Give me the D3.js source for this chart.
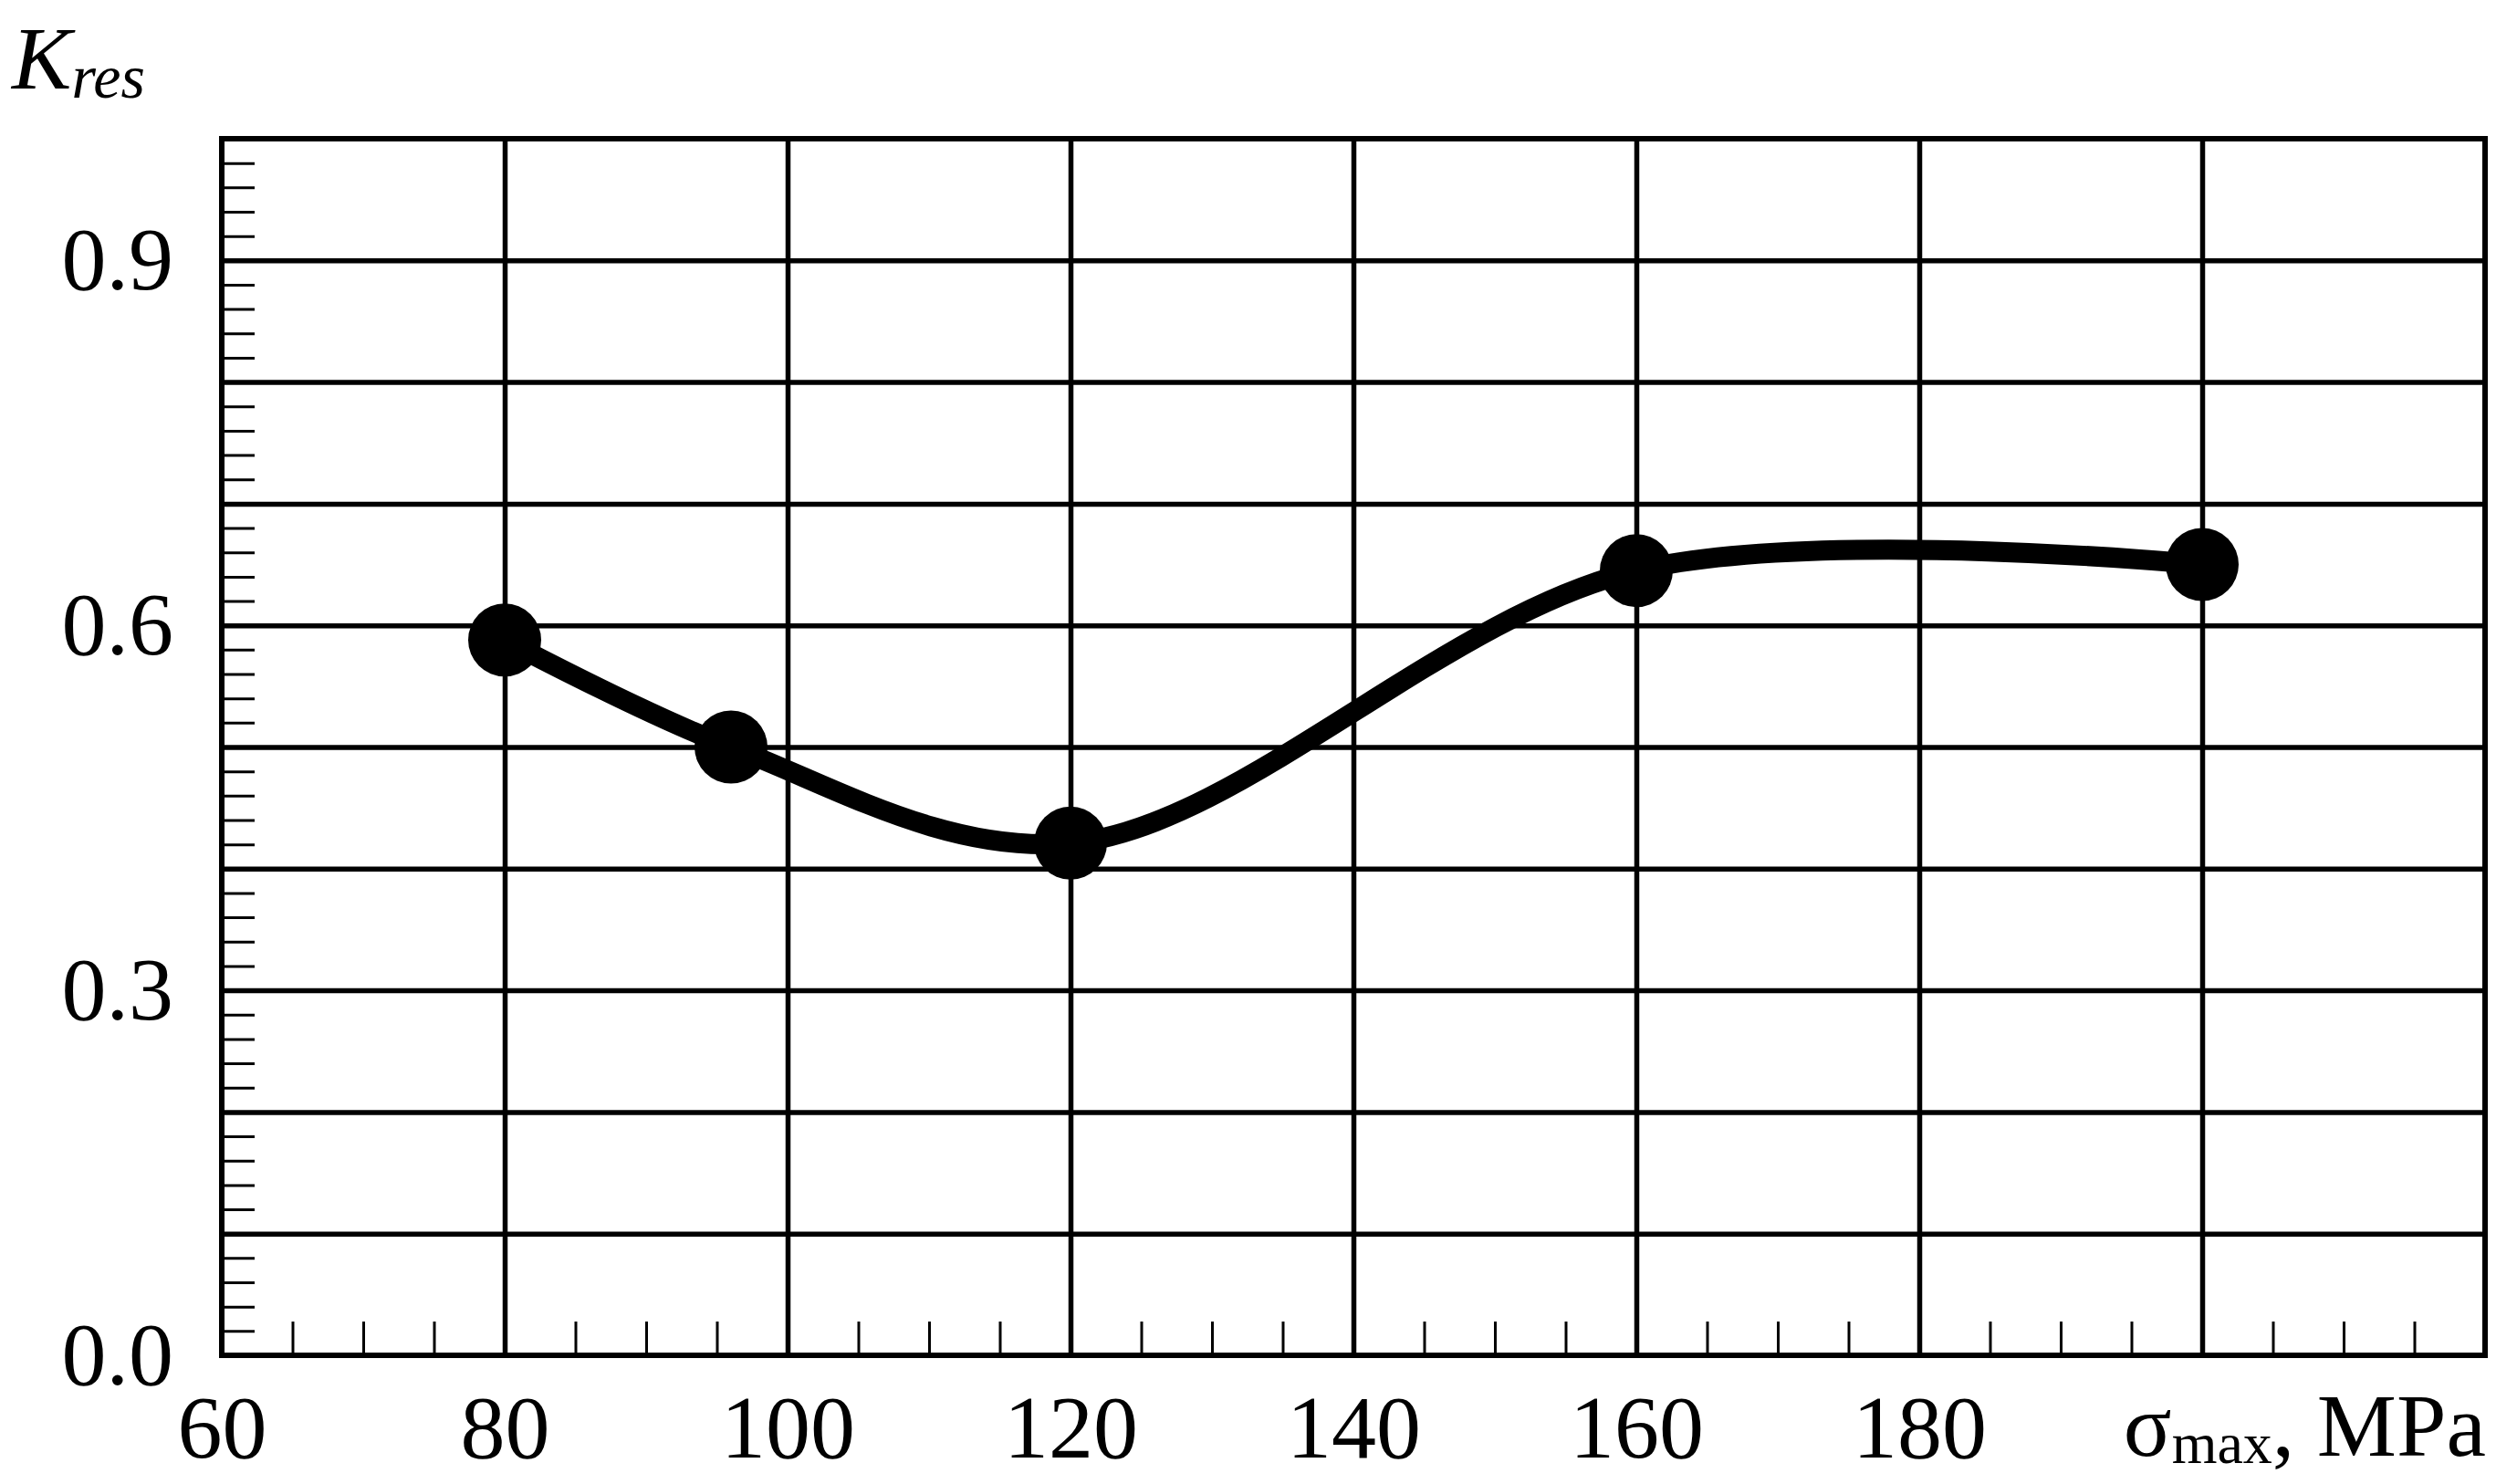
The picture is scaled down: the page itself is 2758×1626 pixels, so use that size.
<!DOCTYPE html>
<html>
<head>
<meta charset="utf-8">
<script src="https://cdn.jsdelivr.net/npm/d3@7"></script>
<style>
  body { margin: 0; background: #fff; }
  svg { display: block; }
  text { font-family: "Liberation Serif", "Times New Roman", serif; fill: #000; }
</style>
</head>
<body>
<div id="chart"></div>
<script>
(() => {
  // data
  const sigmaMax = [80, 96, 120, 160, 200]
  const kRes = [0.588, 0.500, 0.421, 0.645, 0.650]

  // tick labels and grid
  const xTickLabels = [60, 80, 100, 120, 140, 160, 180]
  const yTickLabels = [0.0, 0.3, 0.6, 0.9]
  const xGrid = [80, 100, 120, 140, 160, 180, 200]
  const yGrid = [0.1, 0.2, 0.3, 0.4, 0.5, 0.6, 0.7, 0.8, 0.9]

  const WIDTH = 2758
  const HEIGHT = 1626
  const PLOT = { left: 243, right: 2723, top: 152, bottom: 1485 }
  const FONT = 98

  const xMinor = d3.range(65, 220, 5).filter(v => v % 20 !== 0)
  const yMinor = d3.range(1, 50).map(i => i * 0.02).filter((v, i) => (i + 1) % 5 !== 0)

  const svg = d3.select('#chart')
    .append('svg')
    .attr('width', WIDTH)
    .attr('height', HEIGHT)

  const x = d3.scaleLinear().domain([60, 220]).range([PLOT.left, PLOT.right])
  const y = d3.scaleLinear().domain([0, 1]).range([PLOT.bottom, PLOT.top])
  const plotH = PLOT.bottom - PLOT.top
  const plotW = PLOT.right - PLOT.left

  // grid lines
  svg.append('g')
    .classed('x-grid', true)
    .attr('transform', `translate(0, ${PLOT.bottom})`)
    .call(d3.axisBottom(x).tickValues(xGrid).tickSize(-plotH).tickFormat(''))

  svg.append('g')
    .classed('y-grid', true)
    .attr('transform', `translate(${PLOT.left}, 0)`)
    .call(d3.axisLeft(y).tickValues(yGrid).tickSize(-plotW).tickFormat(''))

  svg.selectAll('.x-grid line, .y-grid line')
    .attr('stroke', '#000')
    .attr('stroke-width', 5.5)

  // minor ticks, pointing inward
  svg.append('g')
    .classed('x-minor', true)
    .attr('transform', `translate(0, ${PLOT.bottom})`)
    .call(d3.axisBottom(x).tickValues(xMinor).tickSize(-37).tickFormat(''))

  svg.append('g')
    .classed('y-minor', true)
    .attr('transform', `translate(${PLOT.left}, 0)`)
    .call(d3.axisLeft(y).tickValues(yMinor).tickSize(-36).tickFormat(''))

  svg.selectAll('.x-minor line, .y-minor line')
    .attr('stroke', '#000')
    .attr('stroke-width', 3)

  // tick labels
  svg.append('g')
    .classed('x-labels', true)
    .attr('transform', `translate(0, ${PLOT.bottom})`)
    .call(d3.axisBottom(x).tickValues(xTickLabels).tickSize(0).tickPadding(42).tickFormat(d3.format('d')))

  svg.append('g')
    .classed('y-labels', true)
    .attr('transform', `translate(${PLOT.left}, 0)`)
    .call(d3.axisLeft(y).tickValues(yTickLabels).tickSize(0).tickPadding(53).tickFormat(d3.format('.1f')))

  svg.selectAll('.x-grid .domain, .y-grid .domain, .x-minor .domain, .y-minor .domain, .x-labels .domain, .y-labels .domain')
    .remove()

  svg.selectAll('.x-labels, .y-labels')
    .attr('font-family', null)
    .attr('font-size', FONT)

  svg.selectAll('.x-labels text, .y-labels text')
    .attr('fill', '#000')

  // frame
  svg.append('rect')
    .attr('x', PLOT.left)
    .attr('y', PLOT.top)
    .attr('width', plotW)
    .attr('height', plotH)
    .attr('fill', 'none')
    .attr('stroke', '#000')
    .attr('stroke-width', 6)

  // axis titles
  const yTitle = svg.append('text')
    .attr('x', 13)
    .attr('y', 97)
    .attr('font-style', 'italic')
  yTitle.append('tspan').attr('font-size', FONT).text('K')
  yTitle.append('tspan').attr('font-size', 68).attr('dy', 10).text('res')

  const xTitle = svg.append('text')
    .attr('x', 2724)
    .attr('y', 1595)
    .attr('text-anchor', 'end')
    .attr('font-size', FONT)
  xTitle.append('tspan').text('σ')
  xTitle.append('tspan').attr('font-size', 64).attr('dy', 8).text('max')
  xTitle.append('tspan').attr('dy', -8).text(', MPa')

  // curve and markers
  const points = sigmaMax.map((s, i) => ({ s, k: kRes[i] }))

  const lineGen = d3.line()
    .x(d => x(d.s))
    .y(d => y(d.k))
    .curve(d3.curveCatmullRom.alpha(0.5))

  svg.append('path')
    .datum(points)
    .attr('d', lineGen)
    .attr('fill', 'none')
    .attr('stroke', '#000')
    .attr('stroke-width', 22)

  svg.selectAll('circle.marker')
    .data(points)
    .join('circle')
    .classed('marker', true)
    .attr('cx', d => x(d.s))
    .attr('cy', d => y(d.k))
    .attr('r', 40)
    .attr('fill', '#000')
})()
</script>
</body>
</html>
